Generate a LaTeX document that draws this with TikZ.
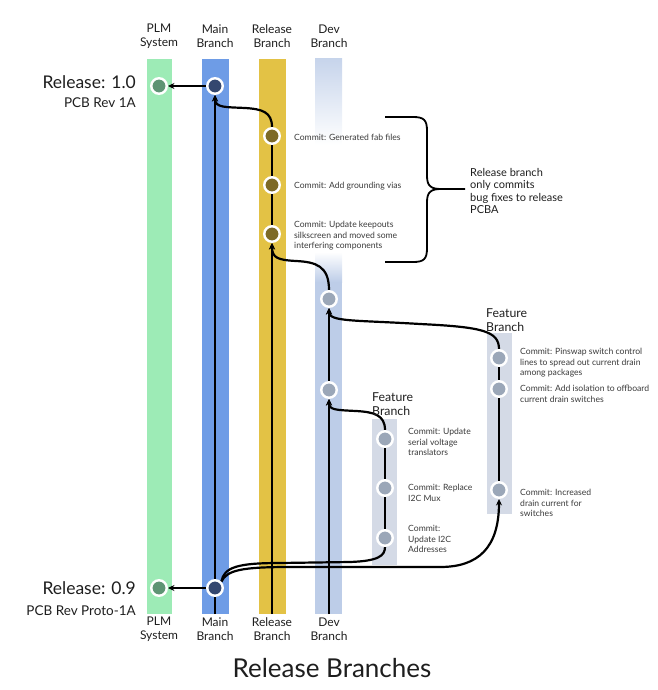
\documentclass[tikz,border=0pt]{standalone}
\usepackage{fontspec}
\setmainfont{Lato}
\usetikzlibrary{arrows.meta}
\definecolor{plmbar}{HTML}{9DEBB6}
\definecolor{mainbar}{HTML}{6E9CE6}
\definecolor{relbar}{HTML}{E3C245}
\definecolor{devbar}{HTML}{BDCDE8}
\definecolor{featbar}{HTML}{D4DAE6}
\definecolor{plmnode}{HTML}{5E9474}
\definecolor{mainnode}{HTML}{34476F}
\definecolor{relnode}{HTML}{7D6A27}
\definecolor{devnode}{HTML}{9BA7B8}
\definecolor{txt}{HTML}{1E1E1E}
\definecolor{ctxt}{HTML}{3A3A3A}
\pgfdeclarelayer{bars}
\pgfdeclarelayer{lines}
\pgfsetlayers{bars,lines,main}
\begin{document}
\begin{tikzpicture}[x=1pt,y=-1pt,
  commitnode/.style={circle, draw=white, line width=2.4pt, minimum size=15.5pt, inner sep=0pt},
  cline/.style={line width=2.2pt, draw=black},
  carrow/.style={line width=2.2pt, draw=black, -{Stealth[length=6.5pt,width=6pt]}},
  hdr/.style={align=center, font=\fontsize{12}{14}\selectfont, text=txt},
  ctext/.style={anchor=west, align=left, font=\fontsize{8.6}{10.4}\selectfont, text=ctxt, inner sep=0pt},
  flabel/.style={anchor=west, align=left, font=\fontsize{12.3}{14}\selectfont, text=txt, inner sep=0pt}]
\useasboundingbox (0,0) rectangle (657,690);

% bars
\begin{pgfonlayer}{bars}
\fill[plmbar] (147,59) rectangle (172,614);
\fill[mainbar] (202,59) rectangle (229,614);
\fill[relbar] (259,59) rectangle (286,614);
\shade[top color=devbar!85, bottom color=white] (315,59) rectangle (342,145);
\shade[top color=white, bottom color=devbar] (315,252) rectangle (342,282);
\fill[devbar] (315,281.5) rectangle (342,614);
\fill[featbar] (372,419) rectangle (397,565);
\fill[featbar] (487,333) rectangle (512,514);
\end{pgfonlayer}

% headers
\node[hdr] (hplm) at (159,36) {PLM\\System};
\node[hdr] (hmain) at (215,36) {Main\\Branch};
\node[hdr] (hrel) at (272,36) {Release\\Branch};
\node[hdr] (hdev) at (329,36) {Dev\\Branch};
\node[hdr] (fplm) at (159,629) {PLM\\System};
\node[hdr] (fmain) at (215,629) {Main\\Branch};
\node[hdr] (frel) at (272,629) {Release\\Branch};
\node[hdr] (fdev) at (329,629) {Dev\\Branch};

% commit nodes
\node[commitnode, fill=plmnode] (p1) at (159,86) {};
\node[commitnode, fill=mainnode] (m1) at (215,86) {};
\node[commitnode, fill=relnode] (r1) at (272,136) {};
\node[commitnode, fill=relnode] (r2) at (272,185) {};
\node[commitnode, fill=relnode] (r3) at (272,234) {};
\node[commitnode, fill=devnode] (d1) at (329,299) {};
\node[commitnode, fill=devnode] (d2) at (329,390) {};
\node[commitnode, fill=devnode] (f1a) at (385,439) {};
\node[commitnode, fill=devnode] (f1b) at (385,488) {};
\node[commitnode, fill=devnode] (f1c) at (385,538) {};
\node[commitnode, fill=devnode] (f2a) at (499,358) {};
\node[commitnode, fill=devnode] (f2b) at (499,389) {};
\node[commitnode, fill=devnode] (f2c) at (499,490) {};
\node[commitnode, fill=plmnode] (p09) at (159,588) {};
\node[commitnode, fill=mainnode] (m09) at (215,588) {};

\coordinate (mbot) at (215,614);
\coordinate (rbot) at (272,614);
\coordinate (dbot) at (329,614);

% connectors
\begin{pgfonlayer}{lines}
\draw[cline] (mbot) -- (m09.south);
\draw[carrow] (m09.north) -- (m1.south);
\draw[carrow] (m1.west) -- (p1.east);
\draw[carrow] (m09.west) -- (p09.east);
\draw[carrow] (r1.north) .. controls (272,112) and (262,109) .. (245,108) .. controls (226,107) and (215,108) .. (m1.south);
\draw[cline] (r1) -- (r2);
\draw[cline] (r2) -- (r3);
\draw[carrow] (rbot) -- (r3.south);
\draw[carrow] (d1.north) .. controls (329,266) and (316,262) .. (296,261) .. controls (278,260) and (272,258) .. (r3.south);
\draw[carrow] (d2.north) -- (d1.south);
\draw[carrow] (dbot) -- (d2.south);
\draw[carrow] (f2a.north) .. controls (499,331) and (482,327) .. (420,324) .. controls (355,320) and (329,322) .. (d1.south);
\draw[carrow] (f1a.north) .. controls (385,415) and (374,412) .. (356,411) .. controls (336,410) and (329,410) .. (d2.south);
\draw[cline] (f1a) -- (f1b);
\draw[cline] (f1b) -- (f1c);
\draw[cline] (f2a) -- (f2b);
\draw[cline] (f2b) -- (f2c);
\draw[cline] (m09.north east) .. controls (224,567) and (238,563) .. (280,563) -- (350,562) .. controls (378,561) and (385,556) .. (f1c.south);
\draw[carrow] (m09.north east) .. controls (227,570) and (242,567) .. (290,567) -- (440,567) .. controls (478,567) and (499,548) .. (f2c.south);
\end{pgfonlayer}

% brace
\coordinate (btop) at (385,117);
\coordinate (bbot) at (385,262);
\coordinate (btip) at (465,189);
\draw[line width=1.8pt] (btop) -- (413,117) .. controls (424,117) and (427,120) .. (427,131) -- (427,176) .. controls (427,186) and (431,189) .. (441,189) -- (btip);
\draw[line width=1.8pt] (441,189) .. controls (431,189) and (427,192) .. (427,202) -- (427,248) .. controls (427,259) and (424,262) .. (413,262) -- (bbot);
\node[anchor=west, align=left, font=\fontsize{11}{12.3}\selectfont, text=txt, inner sep=0pt] (bracetext) at (470,191) {Release branch\\only commits\\bug fixes to release\\PCBA};

% commit texts
\node[ctext] (tr1) at (294,137) {Commit: Generated fab files};
\node[ctext] (tr2) at (294,186) {Commit: Add grounding vias};
\node[ctext] (tr3) at (294,236) {Commit: Update keepouts\\silkscreen and moved some\\interfering components};
\node[ctext] (tf2a) at (520,363) {Commit: Pinswap switch control\\lines to spread out current drain\\among packages};
\node[ctext] (tf2b) at (520,394) {Commit: Add isolation to offboard\\current drain switches};
\node[ctext] (tf2c) at (520,503) {Commit: Increased\\drain current for\\switches};
\node[ctext] (tf1a) at (408,442) {Commit: Update\\serial voltage\\translators};
\node[ctext] (tf1b) at (408,493) {Commit: Replace\\I2C Mux};
\node[ctext] (tf1c) at (408,539) {Commit:\\Update I2C\\Addresses};

% feature labels
\node[flabel] (fb1) at (372,404) {Feature\\Branch};
\node[flabel] (fb2) at (486,320) {Feature\\Branch};

% release labels
\node[anchor=base east, font=\fontsize{17.5}{20}\selectfont, text=txt, inner sep=0pt] (rel1) at (136,89) {Release: 1.0};
\node[anchor=base east, font=\fontsize{13.5}{15}\selectfont, text=txt, inner sep=0pt] (pcb1) at (136,108) {PCB Rev 1A};
\node[anchor=base east, font=\fontsize{17.5}{20}\selectfont, text=txt, inner sep=0pt] (rel09) at (136,594) {Release: 0.9};
\node[anchor=base east, font=\fontsize{13.5}{15}\selectfont, text=txt, inner sep=0pt] (pcb09) at (136,615) {PCB Rev Proto-1A};

% title
\node[anchor=base, font=\fontsize{26}{30}\selectfont, text=txt, inner sep=0pt] (title) at (332,677) {Release Branches};
\end{tikzpicture}
\end{document}
